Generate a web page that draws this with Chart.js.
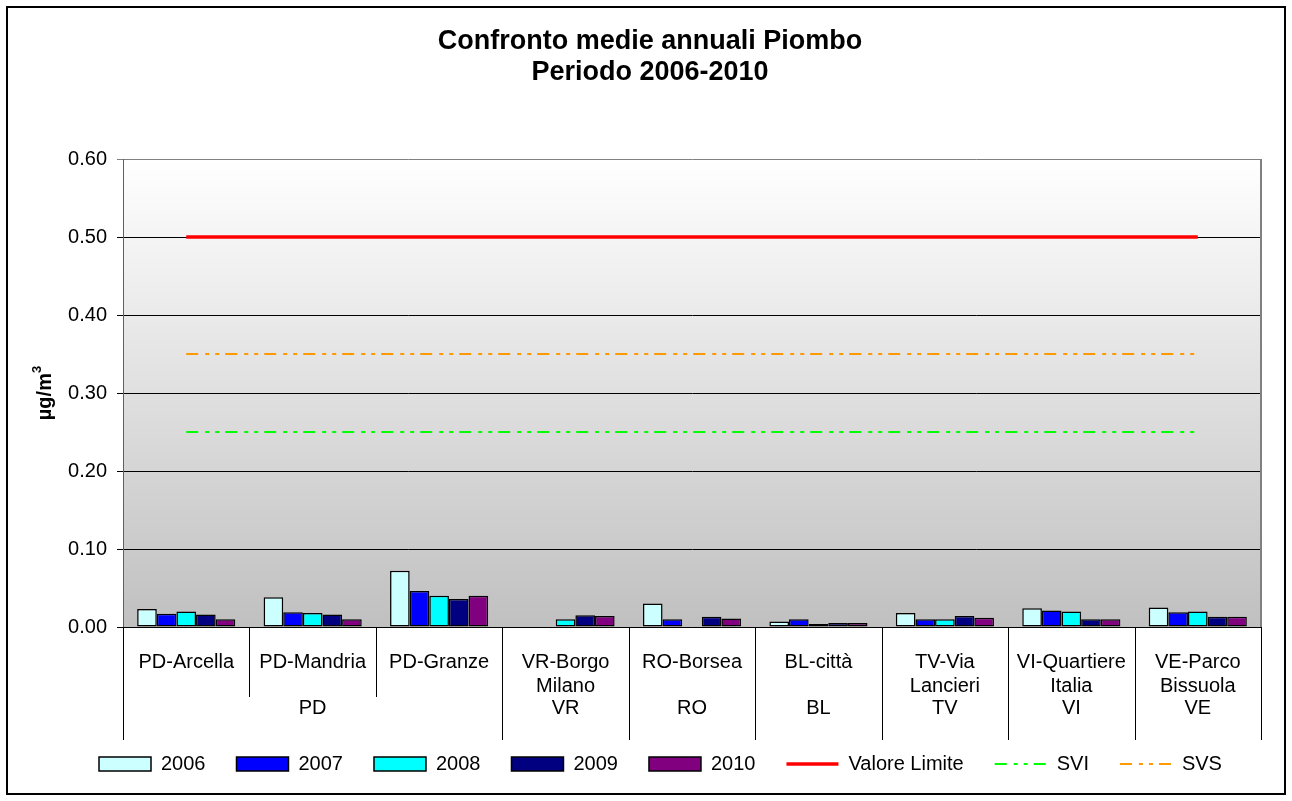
<!DOCTYPE html>
<html>
<head>
<meta charset="utf-8">
<script src="https://cdn.jsdelivr.net/npm/chart.js@4.4.1/dist/chart.umd.min.js"></script>
<style>
  html, body { margin: 0; padding: 0; background: #fff; }
  #wrap { width: 1292px; height: 801px; }
</style>
</head>
<body>
<div id="wrap"><canvas id="chart"></canvas></div>
<script>
const stations = ['PD-Arcella', 'PD-Mandria', 'PD-Granze', ['VR-Borgo', 'Milano'], 'RO-Borsea',
  'BL-città', ['TV-Via', 'Lancieri'], ['VI-Quartiere', 'Italia'], ['VE-Parco', 'Bissuola']];
const provinces = ['PD', 'PD', 'PD', 'VR', 'RO', 'BL', 'TV', 'VI', 'VE'];
const years = ['2006', '2007', '2008', '2009', '2010'];

const s2006 = [0.023, 0.038, 0.072, null, 0.030, 0.007, 0.018, 0.024, 0.025];
const s2007 = [0.017, 0.019, 0.046, null, 0.010, 0.010, 0.010, 0.021, 0.019];
const s2008 = [0.020, 0.018, 0.040, 0.010, null, 0.004, 0.010, 0.020, 0.020];
const s2009 = [0.016, 0.016, 0.036, 0.015, 0.013, 0.005, 0.014, 0.010, 0.013];
const s2010 = [0.010, 0.010, 0.040, 0.014, 0.011, 0.005, 0.012, 0.010, 0.013];

const valoreLimite = 0.50;
const svi = 0.25;
const svs = 0.35;

const yTicks = [0, 0.1, 0.2, 0.3, 0.4, 0.5, 0.6];

const FONT = "'Liberation Sans', Arial, sans-serif";
const barColors = ['#CCFFFF', '#0000FF', '#00FFFF', '#000080', '#800080'];
const dashPattern = [12, 7, 4, 6, 4, 6];

const barSeries = [s2006, s2007, s2008, s2009, s2010];
const datasets = barSeries.map((vals, i) => ({
  type: 'bar',
  label: years[i],
  data: vals,
  backgroundColor: barColors[i],
  borderColor: '#000',
  borderWidth: 1.5,
  borderSkipped: false,
  categoryPercentage: 0.776,
  barPercentage: 1.0
}));

datasets.push(
  { type: 'line', label: 'Valore Limite', data: stations.map(() => valoreLimite),
    borderColor: '#FF0000', borderWidth: 3.5, pointRadius: 0, fill: false },
  { type: 'line', label: 'SVI', data: stations.map(() => svi),
    borderColor: '#00FF00', borderWidth: 2, borderDash: dashPattern, pointRadius: 0, fill: false },
  { type: 'line', label: 'SVS', data: stations.map(() => svs),
    borderColor: '#FF9900', borderWidth: 2, borderDash: dashPattern, pointRadius: 0, fill: false }
);

// gradient behind the plot area
const plotBackground = {
  id: 'plotBackground',
  beforeDraw(chart) {
    const { ctx, chartArea: a } = chart;
    ctx.save();
    ctx.fillStyle = '#fff';
    ctx.fillRect(0, 0, chart.width, chart.height);
    const g = ctx.createLinearGradient(0, a.top, 0, a.bottom);
    g.addColorStop(0, '#ffffff');
    g.addColorStop(1, '#c0c0c0');
    ctx.fillStyle = g;
    ctx.fillRect(a.left, a.top, a.right - a.left, a.bottom - a.top);
    ctx.restore();
  }
};

// title, axis title, grouped category axis, borders
const decorations = {
  id: 'decorations',
  afterDraw(chart) {
    const { ctx, chartArea: a } = chart;
    const xs = chart.scales.x;
    ctx.save();

    // plot right border
    ctx.strokeStyle = '#808080';
    ctx.lineWidth = 2;
    ctx.beginPath();
    ctx.moveTo(a.right, a.top);
    ctx.lineTo(a.right, a.bottom);
    ctx.stroke();

    // category separators
    const n = stations.length;
    const bounds = [];
    for (let i = 0; i <= n; i++) {
      if (i === 0) bounds.push(a.left);
      else if (i === n) bounds.push(a.right);
      else bounds.push((xs.getPixelForValue(i - 1) + xs.getPixelForValue(i)) / 2);
    }
    ctx.strokeStyle = '#000';
    ctx.lineWidth = 1;
    bounds.forEach((bx, i) => {
      const groupEdge = i === 0 || i === n || provinces[i - 1] !== provinces[i];
      const px = Math.round(bx) + 0.5;
      ctx.beginPath();
      ctx.moveTo(px, a.bottom);
      ctx.lineTo(px, groupEdge ? a.bottom + 113 : a.bottom + 70);
      ctx.stroke();
    });

    // province labels
    ctx.fillStyle = '#000';
    ctx.font = '20px ' + FONT;
    ctx.textAlign = 'center';
    ctx.textBaseline = 'middle';
    let start = 0;
    for (let i = 1; i <= n; i++) {
      if (i === n || provinces[i] !== provinces[start]) {
        ctx.fillText(provinces[start], (bounds[start] + bounds[i]) / 2, a.bottom + 81);
        start = i;
      }
    }

    // chart title
    ctx.font = 'bold 27px ' + FONT;
    ctx.fillText('Confronto medie annuali Piombo', 650, 42);
    ctx.fillText('Periodo 2006-2010', 650, 73);

    // y axis title with superscript 3
    ctx.save();
    ctx.translate(45, (a.top + a.bottom) / 2);
    ctx.rotate(-Math.PI / 2);
    ctx.font = 'bold 20px ' + FONT;
    const base = 'µg/m';
    const bw = ctx.measureText(base).width;
    ctx.font = 'bold 13px ' + FONT;
    const sw = ctx.measureText('3').width;
    ctx.textAlign = 'left';
    ctx.font = 'bold 20px ' + FONT;
    ctx.fillText(base, -(bw + sw) / 2, 0);
    ctx.font = 'bold 13px ' + FONT;
    ctx.fillText('3', -(bw + sw) / 2 + bw, -8);
    ctx.restore();

    // outer frame
    ctx.strokeStyle = '#000';
    ctx.lineWidth = 2;
    ctx.strokeRect(7, 7, chart.width - 14, chart.height - 14);
    ctx.restore();
  }
};

new Chart(document.getElementById('chart'), {
  data: { labels: stations, datasets },
  options: {
    responsive: true,
    maintainAspectRatio: false,
    animation: false,
    layout: { padding: { left: 68, right: 31, top: 159, bottom: 17 } },
    plugins: {
      title: { display: false },
      tooltip: { enabled: false },
      legend: {
        position: 'bottom',
        align: 'start',
        labels: {
          font: { family: FONT, size: 20 },
          color: '#000',
          padding: 31,
          boxWidth: 52,
          boxHeight: 14,
          usePointStyle: true,
          pointStyleWidth: 52,
          generateLabels(chart) {
            return chart.data.datasets.map((ds, i) => ds.type === 'bar' ? {
              text: ds.label, datasetIndex: i, pointStyle: 'rect',
              fillStyle: ds.backgroundColor, strokeStyle: '#000', lineWidth: 1.5,
              fontColor: '#000'
            } : {
              text: ds.label, datasetIndex: i, pointStyle: 'line',
              fillStyle: ds.borderColor, strokeStyle: ds.borderColor,
              lineWidth: ds.borderWidth, lineDash: ds.borderDash || [],
              fontColor: '#000'
            });
          }
        }
      }
    },
    scales: {
      x: {
        offset: true,
        grid: { display: false, drawTicks: false },
        border: { color: '#000', width: 1 },
        ticks: {
          font: { family: FONT, size: 20 },
          color: '#000',
          padding: 23,
          maxRotation: 0,
          minRotation: 0,
          autoSkip: false
        },
        afterFit(scale) { scale.height = 96; }
      },
      y: {
        min: 0,
        max: 0.6,
        afterBuildTicks(scale) { scale.ticks = yTicks.map(v => ({ value: v })); },
        grid: {
          color: ctx => ctx.tick && ctx.tick.value === 0.6 ? '#808080' : '#000',
          tickLength: 6,
          lineWidth: 1
        },
        border: { color: '#606060', width: 1 },
        ticks: {
          font: { family: FONT, size: 20 },
          color: '#000',
          padding: 10,
          callback: v => Number(v).toFixed(2)
        },
        afterFit(scale) { scale.width = 55; }
      }
    }
  },
  plugins: [plotBackground, decorations]
});
</script>
</body>
</html>
